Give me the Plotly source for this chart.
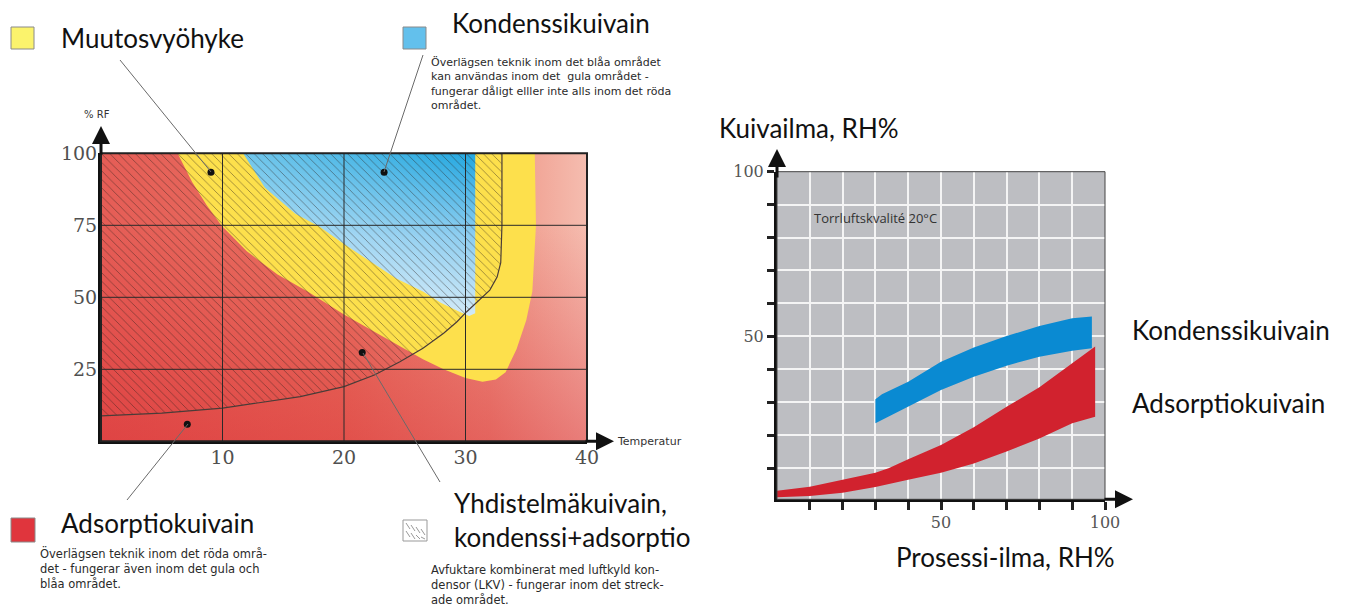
import plotly.graph_objects as go

W, H = 1354, 606
OX, OY = 8, 8          # page body margin of the html page
FW, FH = W - OX, H - OY

# ---------------- Left chart: temperature vs % RF ----------------
temp_ticks = [10, 20, 30, 40]
rf_ticks = [25, 50, 75, 100]
temp_range = [0, 40]
rf_range = [0, 100]

yellow_t = [6.3, 7.5, 8.7, 9.9, 12.0, 14.5, 17.0, 20.0, 22.5, 24.6, 26.5, 28.2, 30.0, 31.4, 32.5, 33.3, 34.2, 35.0, 35.5, 35.8, 35.7]
yellow_rf = [100, 90, 82, 75, 66, 58, 52, 44, 38, 33, 28.5, 25, 22, 20.7, 21.5, 24, 32, 42, 52, 75, 100]

blue_t = [11.7, 13.5, 16.0, 18.0, 20.0, 22.0, 24.3, 26.5, 28.0, 29.5, 30.3, 30.8, 30.8]
blue_rf = [100, 88, 79, 74.5, 68.5, 63, 56.5, 52, 48, 45, 43.5, 44.5, 100]

hatch_t = [0, 5, 10, 16.4, 20, 22.5, 24.6, 26.5, 28.2, 29.3, 30.1, 31.0, 32.0, 32.6, 32.9, 33.0, 33.0]
hatch_rf = [8.8, 9.8, 11.5, 15.5, 19, 23, 27.6, 32.3, 37.5, 41.5, 45, 48.5, 52.5, 57, 62, 75, 100]

dot_t = [9.05, 23.3, 7.1, 21.5]
dot_rf = [93.4, 93.4, 5.9, 30.8]

# ---------------- Right chart: process air vs dry air RH ----------------
rh_ticks = list(range(10, 101, 10))
rh_ticktext = ['', '', '', '', '50', '', '', '', '', '100']

kond_up_x = [30, 32, 40, 50, 60, 70, 80, 90, 96]
kond_up_y = [30.9, 32.4, 36.2, 42.3, 46.6, 50.1, 53.1, 55.5, 56.0]
kond_lo_x = [30, 40, 50, 60, 70, 80, 90, 96]
kond_lo_y = [23.6, 28.6, 33.7, 37.7, 41.1, 43.8, 45.6, 46.4]

ads_up_x = [0, 10, 20, 30, 34, 40, 50, 60, 70, 80, 90, 97]
ads_up_y = [3.1, 4.3, 6.4, 8.6, 9.9, 12.7, 17, 22.4, 28.6, 34.5, 41.8, 46.9]
ads_lo_x = [0, 10, 20, 30, 40, 50, 60, 70, 80, 90, 97]
ads_lo_y = [1.1, 1.5, 2.5, 4.2, 6.4, 8.6, 11.4, 15, 19, 23.6, 25.6]


def px(x):
    return (x - OX) / FW


def py(y):
    return 1 - (y - OY) / FH


fig = go.Figure()

# background of left chart (gradients)
bg_t = [temp_range[0], temp_range[1], temp_range[1], temp_range[0], temp_range[0]]
bg_rf = [rf_range[0], rf_range[0], rf_range[1], rf_range[1], rf_range[0]]
fig.add_trace(go.Scatter(
    x=bg_t, y=bg_rf, mode='lines', fill='toself', line=dict(width=0),
    fillgradient=dict(type='horizontal', start=0, stop=40,
                      colorscale=[[0, '#e55d56'], [0.5, '#e97262'], [0.8, '#ee9282'], [1, '#f5bdb0']]),
    xaxis='x', yaxis='y', hoverinfo='skip', showlegend=False))
fig.add_trace(go.Scatter(
    x=bg_t, y=bg_rf, mode='lines', fill='toself', line=dict(width=0),
    fillgradient=dict(type='vertical', start=0, stop=75,
                      colorscale=[[0, 'rgba(214,30,40,0.40)'], [1, 'rgba(214,30,40,0)']]),
    xaxis='x', yaxis='y', hoverinfo='skip', showlegend=False))

# yellow transition zone
fig.add_trace(go.Scatter(
    x=yellow_t, y=yellow_rf, mode='lines', fill='toself', line=dict(width=0),
    fillcolor='#fde04c', xaxis='x', yaxis='y', hoverinfo='skip', showlegend=False))

# blue condensation zone
fig.add_trace(go.Scatter(
    x=blue_t, y=blue_rf, mode='lines', fill='toself', line=dict(width=0),
    fillgradient=dict(type='vertical', start=43, stop=100,
                      colorscale=[[0, '#d2eaf8'], [0.5, '#8ccdf0'], [1, '#22a7e0']]),
    xaxis='x', yaxis='y', hoverinfo='skip', showlegend=False))
fig.add_trace(go.Scatter(
    x=blue_t, y=blue_rf, mode='lines', fill='toself', line=dict(width=0),
    fillgradient=dict(type='horizontal', start=11.7, stop=30.8,
                      colorscale=[[0, 'rgba(255,255,255,0.35)'], [1, 'rgba(255,255,255,0)']]),
    xaxis='x', yaxis='y', hoverinfo='skip', showlegend=False))

# hatched combination zone
fig.add_trace(go.Scatter(
    x=hatch_t + [0], y=hatch_rf + [100], mode='lines', fill='toself', line=dict(width=0),
    fillcolor='rgba(0,0,0,0)',
    fillpattern=dict(shape='\\', size=6, solidity=0.14, fgcolor='#2a1e1a', fgopacity=0.5),
    xaxis='x', yaxis='y', hoverinfo='skip', showlegend=False))
fig.add_trace(go.Scatter(
    x=hatch_t, y=hatch_rf, mode='lines', line=dict(color='#4a3c38', width=1.2),
    xaxis='x', yaxis='y', hoverinfo='skip', showlegend=False))

# dots
fig.add_trace(go.Scatter(
    x=dot_t, y=dot_rf, mode='markers', marker=dict(color='#111', size=7),
    xaxis='x', yaxis='y', hoverinfo='skip', showlegend=False))

# right chart bands
fig.add_trace(go.Scatter(
    x=kond_up_x + kond_lo_x[::-1], y=kond_up_y + kond_lo_y[::-1], mode='lines', fill='toself',
    line=dict(width=0), fillcolor='#0a8ad2', xaxis='x2', yaxis='y2', hoverinfo='skip', showlegend=False))
fig.add_trace(go.Scatter(
    x=ads_up_x + ads_lo_x[::-1], y=ads_up_y + ads_lo_y[::-1], mode='lines', fill='toself',
    line=dict(width=0), fillcolor='#d1222e', xaxis='x2', yaxis='y2', hoverinfo='skip', showlegend=False))

serif = 'DejaVu Serif'
sans = 'Lato'
small = 'DejaVu Sans'

fig.update_layout(
    width=FW, height=FH, autosize=False,
    margin=dict(l=0, r=0, t=0, b=0, pad=0),
    paper_bgcolor='white', plot_bgcolor='#bdbec2',
    showlegend=False,
    xaxis=dict(domain=[px(101), px(587)], range=temp_range, anchor='y',
               tickvals=temp_ticks, ticks='', showgrid=False, zeroline=False,
               showline=True, linecolor='#111', linewidth=3, automargin=False,
               ticklabelstandoff=-3,
               tickfont=dict(family=serif, size=19, color='#505050')),
    yaxis=dict(domain=[py(441.3), py(153.3)], range=rf_range, anchor='x',
               tickvals=rf_ticks, ticks='', showgrid=False, zeroline=False,
               showline=True, linecolor='#111', linewidth=3, automargin=False,
               ticklabelstandoff=-3,
               tickfont=dict(family=serif, size=19, color='#505050')),
    xaxis2=dict(domain=[px(777), px(1105)], range=[0, 100], anchor='y2',
                tickvals=rh_ticks, ticktext=rh_ticktext, ticks='outside', ticklen=8,
                tickwidth=2.5, tickcolor='#222', showgrid=True, gridcolor='#f4f4f4',
                gridwidth=1.5, zeroline=False, showline=True, linecolor='#111',
                linewidth=3, automargin=False, ticklabelstandoff=-2,
                tickfont=dict(family=serif, size=16, color='#555')),
    yaxis2=dict(domain=[py(499.3), py(171.7)], range=[0.5, 100], anchor='x2',
                tickvals=rh_ticks, ticktext=rh_ticktext, ticks='outside', ticklen=7,
                tickwidth=2.5, tickcolor='#222', showgrid=True, gridcolor='#f4f4f4',
                gridwidth=1.5, zeroline=False, showline=True, linecolor='#111',
                linewidth=3, automargin=False,
                tickfont=dict(family=serif, size=16, color='#555')),
)

shapes = []
# left chart grid lines (drawn above the fills)
for t in temp_ticks[:-1]:
    shapes.append(dict(type='line', xref='x', yref='y', x0=t, x1=t, y0=rf_range[0], y1=rf_range[1],
                       line=dict(color='#2a2a2a', width=1), layer='above'))
for r in rf_ticks[:-1]:
    shapes.append(dict(type='line', xref='x', yref='y', x0=temp_range[0], x1=temp_range[1], y0=r, y1=r,
                       line=dict(color='#2a2a2a', width=1), layer='above'))
# borders
shapes.append(dict(type='rect', xref='x domain', yref='y domain', x0=0, x1=1, y0=0, y1=1,
                   line=dict(color='#222', width=2), layer='above'))
shapes.append(dict(type='rect', xref='x2 domain', yref='y2 domain', x0=0, x1=1, y0=0, y1=1,
                   line=dict(color='#444', width=1), layer='above'))

# leader lines
leaders = [((120, 60), (211, 172)), ((423, 55), (384, 172)),
           ((127, 500), (188, 424)), ((440, 482), (363, 353))]
for (a, b) in leaders:
    shapes.append(dict(type='line', xref='paper', yref='paper', x0=px(a[0]), y0=py(a[1]),
                       x1=px(b[0]), y1=py(b[1]), line=dict(color='#6a6a6a', width=1)))


# legend squares
def sq(x0, y0, x1, y1, fill, line='#8a8a8a'):
    return dict(type='rect', xref='paper', yref='paper', x0=px(x0), x1=px(x1), y0=py(y1), y1=py(y0),
                fillcolor=fill, line=dict(color=line, width=1))


shapes.append(sq(11, 27, 34, 49, '#fbf36c'))
shapes.append(sq(403, 27, 426, 49, '#63c0ec'))
shapes.append(sq(11, 518, 35, 542, '#e0353d'))
shapes.append(sq(403, 520, 427, 541, 'white', '#999'))
for k in range(4):
    xs = 406 + k * 5
    shapes.append(dict(type='line', xref='paper', yref='paper', x0=px(xs), y0=py(523 + k * 2),
                       x1=px(xs + 4), y1=py(529 + k * 2), line=dict(color='#999', width=1)))
    shapes.append(dict(type='line', xref='paper', yref='paper', x0=px(xs), y0=py(531 + k * 2),
                       x1=px(xs + 4), y1=py(min(537 + k * 2, 539)),
                       line=dict(color='#999', width=1)))
fig.update_layout(shapes=shapes)

ann = []


def txt(x, y, s, size, family=sans, color='#111', xanchor='left'):
    ann.append(dict(x=px(x), y=py(y), xref='paper', yref='paper', text=s, showarrow=False,
                    xanchor=xanchor, yanchor='middle', align='left', borderpad=0,
                    font=dict(family=family, size=size, color=color)))


txt(60, 38, 'Muutosvyöhyke', 26)
txt(451, 23, 'Kondenssikuivain', 26)
txt(430, 84, '<br>'.join(['Överlägsen teknik inom det blåa området', 'kan användas inom det  gula området -',
                          'fungerar dåligt elller inte alls inom det röda', 'området.']), 11, small, '#2a2a2a')
txt(97, 114, '% RF', 10, small, '#333', 'center')
txt(616, 441, 'Temperatur', 11, small, '#333')
txt(60, 523, 'Adsorptiokuivain', 26)
txt(39, 568, '<br>'.join(['Överlägsen teknik inom det röda områ-', 'det - fungerar även inom det gula och',
                          'blåa området.']), 11.5, small, '#2a2a2a')
txt(453, 503, 'Yhdistelmäkuivain,', 26)
txt(453, 537, 'kondenssi+adsorptio', 26)
txt(430, 585, '<br>'.join(['Avfuktare kombinerat med luftkyld kon-', 'densor (LKV) - fungerar inom det streck-',
                           'ade området.']), 11.5, small, '#2a2a2a')
txt(718, 128, 'Kuivailma, RH%', 26)
txt(895, 557, 'Prosessi-ilma, RH%', 26)
txt(1131, 330, 'Kondenssikuivain', 26)
txt(1131, 403, 'Adsorptiokuivain', 26)
ann.append(dict(x=10.7, y=85.9, xref='x2', yref='y2', text='Torrluftskvalité 20°C', showarrow=False,
                xanchor='left', yanchor='middle', font=dict(family='Open Sans', size=13, color='#333')))

# axis arrows
for (tx, ty, axp, ayp) in [(101, 126, 0, 30), (614, 441.3, -30, 0), (777, 149, 0, 30), (1133, 499.3, -30, 0)]:
    ann.append(dict(x=px(tx), y=py(ty), xref='paper', yref='paper', ax=axp, ay=ayp, text='',
                    showarrow=True, arrowhead=2, arrowsize=1.2, arrowwidth=3, arrowcolor='#111'))

fig.update_layout(annotations=ann)

fig.write_html('out.html')
